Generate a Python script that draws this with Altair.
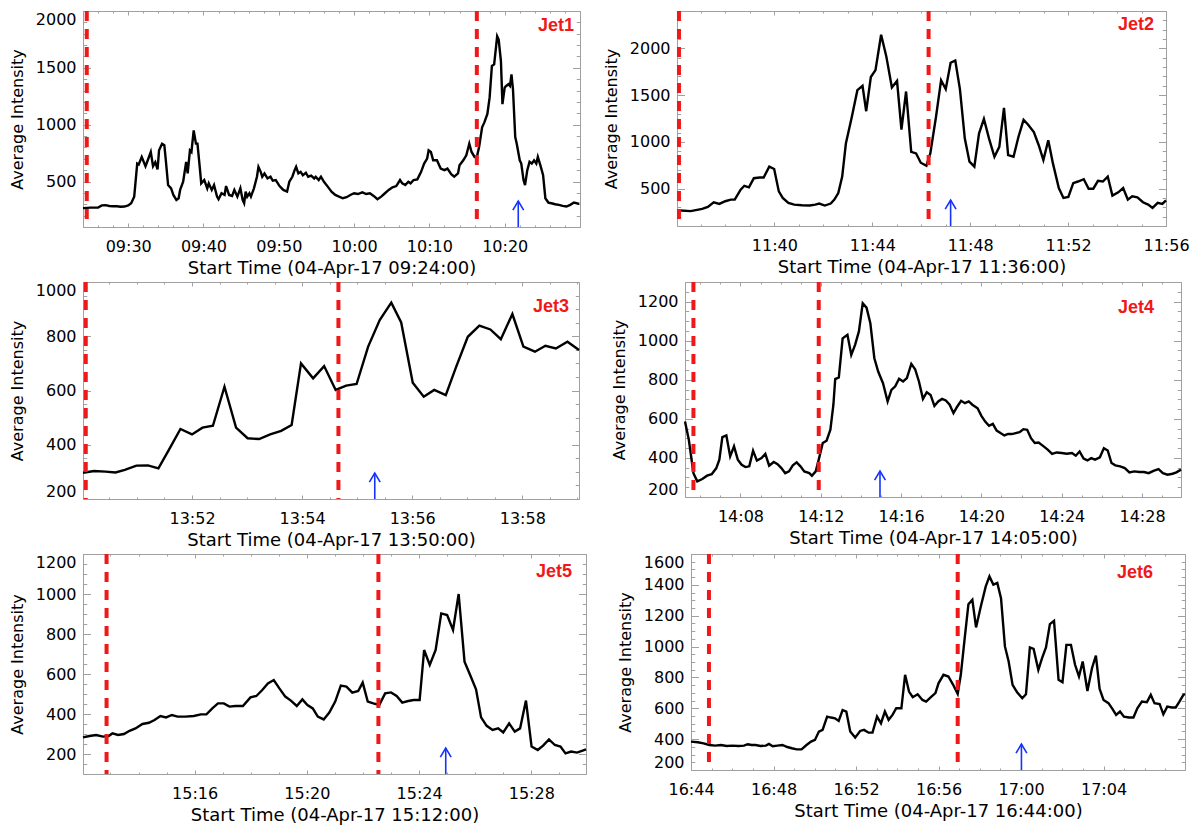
import pandas as pd
import altair as alt

# colours / fonts
RED = "#f01818"
BLUE = "#1433ff"
GRAY = "#a0a0a0"
FONT = "DejaVu Sans"

# start time of each panel, minutes after midnight
STARTS = [9 * 60 + 24, 11 * 60 + 36, 13 * 60 + 50, 14 * 60 + 5, 15 * 60 + 12, 16 * 60 + 44]
NAMES = ["Jet1", "Jet2", "Jet3", "Jet4", "Jet5", "Jet6"]

# Jet1: minutes after 09:24:00, average intensity
T1 = [0.0, 1.0, 2.0, 2.5, 3.0, 3.5, 4.0, 4.5, 5.0, 5.5, 6.0, 6.4, 6.8, 7.2, 7.4, 7.8, 8.3, 8.6, 9.0, 9.3,
      9.6, 9.9, 10.1, 10.5, 10.8, 11.0, 11.3, 11.7, 12.0, 12.4, 12.7, 12.9, 13.3, 13.7, 13.9, 14.2, 14.4, 14.7,
      15.0, 15.2, 15.5, 15.7, 16.1, 16.5, 16.7, 17.1, 17.4, 17.8, 18.0, 18.4, 18.8, 19.0, 19.4, 19.8, 20.1,
      20.5, 20.9, 21.2, 21.4, 21.6, 21.8, 22.1, 22.3, 22.7, 23.1, 23.3, 23.6, 23.8, 24.1, 24.5, 24.9, 25.2,
      25.6, 26.1, 26.6, 27.1, 27.4, 27.8, 28.1, 28.3, 28.6, 28.9, 29.2, 29.6, 29.9, 30.3, 30.7, 30.9, 31.3,
      31.6, 32.0, 32.5, 33.0, 33.5, 34.0, 34.5, 35.0, 35.5, 36.0, 36.5, 37.1, 37.6, 38.1, 38.6, 39.1, 39.6,
      40.1, 40.6, 41.1, 41.6, 42.1, 42.4, 42.8, 43.2, 43.5, 43.9, 44.4, 44.9, 45.3, 45.7, 45.9, 46.2, 46.5,
      47.0, 47.5, 48.0, 48.4, 48.9, 49.3, 49.8, 50.0, 50.5, 50.9, 51.3, 51.6, 52.0, 52.3, 52.6, 53.0, 53.3,
      53.7, 54.0, 54.3, 54.6, 55.0, 55.2, 55.5, 55.7, 56.0, 56.2, 56.5, 56.7, 56.9, 57.1, 57.4, 57.6, 58.0,
      58.2, 58.5, 58.7, 59.0, 59.3, 59.6, 59.9, 60.2, 60.4, 60.8, 61.1, 61.4, 61.8, 62.2, 62.7, 63.2, 63.7,
      64.2, 64.7, 65.2, 65.9]
I1 = [266, 270, 272, 290, 292, 285, 282, 283, 278, 280, 290, 309, 367, 658, 650, 716, 635, 687, 760, 635,
      670, 606, 774, 833, 820, 687, 469, 440, 382, 338, 353, 426, 498, 673, 571, 774, 760, 949,
      833, 833, 629, 484, 513, 440, 484, 426, 469, 367, 344, 397, 382, 460, 382, 373, 426,
      367, 440, 338, 309, 411, 367, 397, 367, 440, 542, 629, 585, 542, 571, 527, 542, 507,
      513, 460, 426, 411, 498, 542, 600, 629, 571, 585, 556, 577, 542, 551, 527, 542, 513,
      542, 498, 455, 411, 382, 367, 353, 362, 382, 397, 390, 405, 390, 397, 373, 344, 367,
      397, 426, 449, 460, 513, 484, 469, 498, 484, 513, 519, 585, 658, 702, 774, 760, 687,
      687, 614, 600, 614, 565, 542, 571, 643, 687, 731, 833, 760, 716, 716, 804, 977, 1020,
      1094, 1240, 1516, 1530, 1777, 1748, 1560, 1181, 1327, 1341, 1356, 1341, 1443, 1312, 891, 833, 687,
      658, 513, 469, 600, 673, 658, 687, 658, 716, 629, 556, 353, 315, 309, 300, 295, 286,
      280, 295, 315, 303]

# Jet2: minutes after 11:36:00
T2 = [0.02, 0.58, 1.05, 1.28, 1.52, 1.75, 1.99, 2.22, 2.38, 2.62, 2.77, 2.96, 3.16, 3.40, 3.56, 3.79, 3.99,
      4.18, 4.34, 4.57, 4.81, 5.12, 5.44, 5.67, 5.83, 6.06, 6.30, 6.45, 6.61, 6.77, 6.92, 7.16, 7.39, 7.60,
      7.75, 7.94, 8.13, 8.36, 8.57, 8.80, 9.01, 9.19, 9.38, 9.59, 9.79, 9.98, 10.21, 10.37, 10.60, 10.81,
      11.00, 11.20, 11.39, 11.58, 11.78, 11.97, 12.17, 12.36, 12.56, 12.77, 12.99, 13.19, 13.38, 13.55,
      13.77, 13.97, 14.18, 14.36, 14.60, 14.80, 14.99, 15.19, 15.38, 15.62, 15.81, 16.01, 16.21, 16.40,
      16.64, 16.84, 17.03, 17.22, 17.42, 17.62, 17.81, 18.05, 18.25, 18.44, 18.62, 18.83, 19.06, 19.27,
      19.45, 19.66, 19.85, 20.0]
I2 = [269, 259, 283, 305, 354, 336, 365, 382, 382, 488, 530, 513, 611, 619, 619, 735, 710,
      470, 400, 347, 329, 322, 319, 329, 340, 319, 340, 382, 453, 629, 982, 1264, 1553, 1599,
      1328, 1694, 1768, 2146, 1917, 1582, 1652, 1130, 1539, 894, 876, 777, 745, 876, 1264, 1659,
      1564, 1846, 1871, 1564, 1035, 788, 735, 1088, 1246, 1035, 841, 947, 1363, 859,
      841, 1052, 1236, 1186, 1105, 964, 805, 1017, 770, 506, 400, 410, 559, 576,
      601, 499, 499, 583, 576, 629, 425, 460, 506, 382, 417, 407, 354, 329,
      294, 347, 336, 375]

# Jet3: minutes after 13:50:00
T3 = [0.02, 0.22, 0.43, 0.61, 0.78, 0.99, 1.20, 1.39, 1.58, 1.79, 2.00, 2.19, 2.38, 2.59, 2.80, 3.01,
      3.22, 3.42, 3.62, 3.81, 3.98, 4.20, 4.40, 4.61, 4.80, 4.99, 5.20, 5.41, 5.62, 5.80, 6.01, 6.21,
      6.40, 6.61, 6.80, 7.01, 7.22, 7.42, 7.61, 7.82, 8.02, 8.23, 8.42, 8.61, 8.82, 9.03]
I3 = [297, 303, 301, 298, 307, 323, 324, 313, 381, 458, 438, 463, 470, 614, 463, 424,
      421, 438, 451, 473, 700, 645, 690, 602, 618, 624, 762, 860, 924, 851, 629, 577,
      602, 583, 688, 798, 839, 825, 789, 882, 762, 743, 765, 755, 780, 749]

# Jet4: minutes after 14:05:00
T4 = [0.24, 0.43, 0.66, 0.85, 1.10, 1.34, 1.57, 1.80, 1.95, 2.10, 2.30, 2.49, 2.68, 2.87, 3.06, 3.25,
      3.44, 3.63, 3.82, 4.05, 4.24, 4.43, 4.66, 4.85, 5.04, 5.23, 5.42, 5.61, 5.80, 5.99, 6.18, 6.43,
      6.56, 6.75, 6.90, 7.10, 7.29, 7.48, 7.63, 7.72, 7.90, 8.09, 8.33, 8.52, 8.71, 8.90, 9.09, 9.28,
      9.47, 9.67, 9.86, 10.10, 10.33, 10.52, 10.71, 10.90, 11.10, 11.29, 11.51, 11.70, 11.89, 12.09,
      12.28, 12.47, 12.66, 12.85, 13.04, 13.23, 13.42, 13.61, 13.80, 13.99, 14.18, 14.37, 14.55, 14.81,
      15.00, 15.19, 15.38, 15.57, 15.76, 15.95, 16.14, 16.33, 16.52, 16.71, 16.90, 17.09, 17.28, 17.47,
      17.66, 17.85, 18.10, 18.30, 18.52, 18.75, 19.00, 19.25, 19.51, 19.70, 19.89, 20.09, 20.28, 20.47,
      20.66, 20.90, 21.10, 21.29, 21.48, 21.67, 21.91, 22.14, 22.37, 22.62, 22.87, 23.10, 23.33, 23.57,
      23.82, 24.04, 24.27, 24.52, 24.71, 24.94]
I4 = [586, 493, 322, 280, 292, 309, 317, 348, 391, 506, 515, 408, 459, 391, 365, 353,
      357, 437, 386, 399, 421, 360, 379, 368, 348, 322, 331, 362, 377, 357, 331, 322,
      309, 331, 391, 476, 488, 544, 672, 803, 812, 1012, 1030, 927, 978, 1047, 1191, 1169,
      1089, 910, 842, 782, 689, 748, 766, 805, 791, 808, 881, 854, 791, 702,
      736, 722, 666, 689, 702, 694, 672, 629, 663, 692, 680, 689, 672, 654,
      615, 586, 564, 574, 540, 527, 515, 523, 522, 527, 532, 547, 544, 501,
      476, 479, 459, 442, 421, 428, 425, 421, 425, 411, 433, 396, 387, 399,
      391, 403, 450, 438, 374, 362, 357, 348, 326, 331, 328, 328, 322, 334,
      343, 322, 314, 319, 326, 340]

# Jet5: minutes after 15:12:00
T5 = [0.02, 0.25, 0.49, 0.73, 0.93, 1.07, 1.27, 1.48, 1.68, 1.89, 2.14, 2.37, 2.57, 2.78, 2.98, 3.19,
      3.39, 3.67, 3.97, 4.22, 4.42, 4.63, 4.83, 5.04, 5.24, 5.45, 5.72, 5.99, 6.20, 6.41, 6.61, 6.82,
      7.02, 7.23, 7.43, 7.64, 7.84, 8.02, 8.21, 8.39, 8.60, 8.80, 9.01, 9.21, 9.41, 9.62, 9.83, 9.99,
      10.17, 10.37, 10.58, 10.79, 11.00, 11.20, 11.40, 11.61, 11.81, 12.02, 12.18, 12.38, 12.59, 12.79,
      13.00, 13.21, 13.41, 13.62, 13.82, 14.03, 14.21, 14.41, 14.62, 14.82, 15.00, 15.21, 15.41, 15.60,
      15.81, 16.01, 16.23, 16.42, 16.63, 16.84, 17.04, 17.22, 17.42, 17.63, 17.83, 17.95]
I5 = [283, 290, 295, 287, 290, 303, 295, 300, 316, 328, 350, 356, 370, 390, 383, 395,
      387, 387, 390, 398, 398, 428, 453, 453, 437, 440, 440, 483, 490, 520, 553, 570,
      528, 487, 467, 440, 473, 445, 428, 387, 373, 407, 462, 542, 537, 507, 515, 557,
      462, 453, 445, 503, 508, 490, 457, 465, 470, 470, 720, 645, 720, 903,
      895, 820, 1000, 662, 595, 523, 383, 341, 320, 328, 308, 353, 312, 328,
      467, 237, 220, 242, 273, 245, 237, 203, 212, 207, 217, 223]

# Jet6: minutes after 16:44:00
T6 = [0.0, 0.33, 0.61, 0.89, 1.17, 1.45, 1.73, 2.01, 2.29, 2.57, 2.75, 2.94, 3.13, 3.37, 3.63, 3.78,
      3.96, 4.19, 4.43, 4.67, 4.89, 5.12, 5.36, 5.60, 5.82, 6.01, 6.20, 6.38, 6.60, 6.79, 6.98, 7.16,
      7.35, 7.53, 7.72, 7.96, 8.20, 8.39, 8.61, 8.80, 9.02, 9.21, 9.40, 9.58, 9.77, 9.95, 10.20, 10.38,
      10.57, 10.75, 10.99, 11.22, 11.40, 11.63, 11.85, 12.00, 12.24, 12.48, 12.71, 12.93, 13.08, 13.27,
      13.45, 13.64, 13.82, 14.05, 14.29, 14.47, 14.66, 14.85, 15.03, 15.22, 15.40, 15.59, 15.81, 16.06,
      16.24, 16.43, 16.61, 16.84, 17.02, 17.21, 17.40, 17.60, 17.82, 18.01, 18.20, 18.42, 18.62, 18.81,
      18.99, 19.22, 19.44, 19.63, 19.81, 20.00, 20.24, 20.43, 20.61, 20.80, 20.99, 21.23, 21.45, 21.64,
      21.86, 22.10, 22.29, 22.47, 22.72, 22.90, 23.09, 23.31, 23.50, 23.68, 23.87, 23.95]
I6 = [384, 380, 373, 362, 358, 362, 356, 358, 356, 358, 367, 362, 362, 356, 358, 369,
      354, 358, 362, 349, 341, 334, 334, 362, 384, 395, 449, 460, 546, 540, 535, 518,
      589, 579, 449, 410, 453, 460, 442, 442, 546, 503, 579, 525, 557, 600, 600, 817,
      708, 672, 691, 654, 643, 672, 698, 762, 817, 806, 752, 693, 817, 1055,
      1275, 1303, 1124, 1260, 1390, 1455, 1401, 1412, 1314, 1001, 903, 752, 704, 665,
      691, 994, 985, 849, 925, 994, 1146, 1167, 784, 769, 1011, 1011, 882, 806,
      903, 712, 860, 942, 726, 654, 633, 596, 557, 579, 546, 540, 540, 600,
      643, 639, 687, 633, 628, 561, 611, 605, 605, 643, 687, 693]

# red dashed markers and blue arrows, minutes after start
DASH = [[0.5, 52.3], [0.1, 10.3], [0.07, 4.66], [0.66, 6.9], [0.86, 10.55], [0.87, 12.93]]
ARROW = [57.8, 11.2, 5.32, 9.95, 12.95, 16.02]

# axis ranges and labelled ticks (minutes after midnight / intensity)
XDOM = [[564, 630], [696.02, 716], [830.02, 839.03], [845.24, 869.94], [912.02, 929.95], [1004, 1027.95]]
XT = [[570, 580, 590, 600, 610, 620], [700, 704, 708, 712, 716], [832, 834, 836, 838],
      [848, 852, 856, 860, 864, 868], [916, 920, 924, 928], [1004, 1008, 1012, 1016, 1020, 1024]]
XMINOR = [2, 1, 0.5, 1, 1, 1]
YDOM = [[100, 2000], [100, 2400], [200, 1000], [200, 1300], [100, 1200], [200, 1600]]
YT = [[500, 1000, 1500, 2000], [500, 1000, 1500, 2000], [200, 400, 600, 800, 1000],
      [200, 400, 600, 800, 1000, 1200], [200, 400, 600, 800, 1000, 1200],
      [200, 400, 600, 800, 1000, 1200, 1400, 1600]]
YMINOR = [100, 100, 50, 50, 50, 50]

SERIES = [(T1, I1), (T2, I2), (T3, I3), (T4, I4), (T5, I5), (T6, I6)]

# panel sizes and label placement
SIZES = [(497, 216), (489, 215), (496, 217), (496, 215), (503, 220), (494, 216)]
JETPOS = [(6, 15), (12, 14), (10, 25), (27, 26), (14, 18), (32, 19)]

HHMM = ("(floor(datum.value / 60) < 10 ? '0' : '') + floor(datum.value / 60) + ':' + "
        "(datum.value % 60 < 10 ? '0' : '') + datum.value % 60")


def steps(lo, hi, step):
    k = int(-(-lo // step))
    out = []
    while k * step <= hi + 1e-9:
        out.append(round(k * step, 3))
        k += 1
    return out


def tick_axis(orient, values, size):
    # ticks drawn inside the frame, like IDL
    return alt.Axis(orient=orient, values=values, offset=-size, tickSize=size, tickColor=GRAY,
                    tickWidth=1, labels=False, domain=False, grid=False, title=None,
                    minExtent=0, maxExtent=0)


def panel(i):
    t, v = SERIES[i]
    start = STARTS[i]
    w, h = SIZES[i]
    df = pd.DataFrame({"t": [start + x for x in t], "v": v})
    xs = alt.Scale(domain=XDOM[i], nice=False, zero=False)
    ys = alt.Scale(domain=YDOM[i], nice=False, zero=False)
    hh, mm = divmod(start, 60)

    xmin = steps(XDOM[i][0], XDOM[i][1], XMINOR[i])
    xmaj = steps(XDOM[i][0], XDOM[i][1], XT[i][1] - XT[i][0])
    ymin = steps(YDOM[i][0], YDOM[i][1], YMINOR[i])
    ymaj = steps(YDOM[i][0], YDOM[i][1], YT[i][1] - YT[i][0])

    line = alt.Chart(df).mark_line(color="black", strokeWidth=2.4).encode(
        x=alt.X("t:Q", scale=xs, axis=alt.Axis(
            orient="bottom", values=XT[i], labelExpr=HHMM,
            title=f"Start Time (04-Apr-17 {hh:02d}:{mm:02d}:00)",
            ticks=False, tickSize=0, domain=False, grid=False, labelPadding=11,
            labelFlush=False, labelOverlap=False, labelFontSize=16, titleFontSize=18,
            titlePadding=5)),
        y=alt.Y("v:Q", scale=ys, axis=alt.Axis(
            orient="left", values=YT[i], format="d", title="Average Intensity",
            ticks=False, tickSize=0, domain=False, grid=False, labelPadding=7,
            labelFlush=True, labelFontSize=16, titleFontSize=16, titlePadding=8,
            minExtent=50, maxExtent=50)),
    )

    def ghost(xo, xv, xl, yo, yv, yl):
        return alt.Chart(df).mark_point(opacity=0, size=1).encode(
            x=alt.X("t:Q", scale=xs, axis=tick_axis(xo, xv, xl)),
            y=alt.Y("v:Q", scale=ys, axis=tick_axis(yo, yv, yl)),
        )

    g1 = ghost("bottom", xmaj, 4, "left", ymaj, 7.5)
    g2 = ghost("bottom", xmin, 2, "left", ymin, 3.75)
    g3 = ghost("top", xmaj, 4, "right", ymaj, 7.5)
    g4 = ghost("top", xmin, 2, "right", ymin, 3.75)

    dash = alt.Chart(pd.DataFrame({"t": [start + x for x in DASH[i]]})).mark_rule(
        color=RED, strokeWidth=4, strokeDash=[10, 8]
    ).encode(x=alt.X("t:Q", scale=xs, axis=None))

    adf = pd.DataFrame({"t": [start + ARROW[i]]})
    shaft = alt.Chart(adf).mark_rule(color=BLUE, strokeWidth=1.6).encode(
        x=alt.X("t:Q", scale=xs, axis=None), y=alt.value(h), y2=alt.value(h - 26))
    head = alt.Chart(adf).mark_point(
        shape="M-1,1.7L0,0L1,1.7", filled=False, color=BLUE, strokeWidth=1.6, size=117, opacity=1
    ).encode(x=alt.X("t:Q", scale=xs, axis=None), y=alt.value(h - 26))

    inset, ty = JETPOS[i]
    label = alt.Chart(pd.DataFrame({"name": [NAMES[i]]})).mark_text(
        align="right", baseline="middle", font="Liberation Sans", fontWeight="bold",
        fontSize=18, color=RED
    ).encode(text="name:N", x=alt.value(w - inset), y=alt.value(ty))

    return alt.layer(line, g1, g2, g3, g4, dash, shaft, head, label).resolve_axis(
        x="independent", y="independent"
    ).properties(width=w, height=h)


row1 = alt.hconcat(panel(0), panel(1), spacing=17)
row2 = alt.hconcat(panel(2), panel(3), spacing=25)
row3 = alt.hconcat(panel(4), panel(5), spacing=24)

chart = alt.vconcat(row1, row2, row3, spacing=1).properties(
    padding=0
).configure_view(
    stroke=GRAY, strokeWidth=1
).configure_axis(
    labelFont=FONT, titleFont=FONT, labelColor="black", titleColor="black",
    titleFontWeight="normal"
)

chart.save("out.html", embed_options={"renderer": "svg", "actions": False})
